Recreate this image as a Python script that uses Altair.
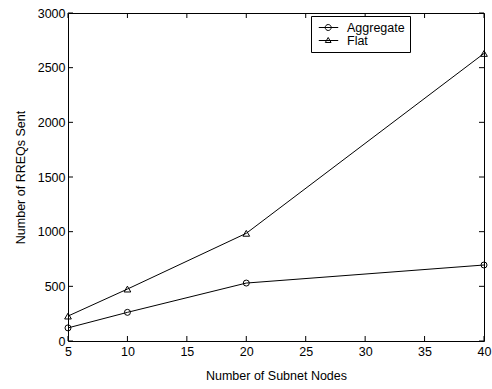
import altair as alt
import pandas as pd

# ---- data ----
nodes = [5, 10, 20, 40]
aggregate = [120, 262, 530, 695]
flat = [228, 475, 985, 2630]
series_names = ["Aggregate", "Flat"]
x_ticks = [5, 10, 15, 20, 25, 30, 35, 40]
y_ticks = [0, 500, 1000, 1500, 2000, 2500, 3000]

W, H = 416, 328
FONT = "Liberation Sans"
FS = 12.5
TICK = 5
X_TITLE = "Number of Subnet Nodes"
Y_TITLE = "Number of RREQs Sent"

df = pd.DataFrame({
    "nodes": nodes * 2,
    "value": aggregate + flat,
    "series": [series_names[0]] * len(nodes) + [series_names[1]] * len(nodes),
})
xt = pd.DataFrame({"nodes": x_ticks})
yt = pd.DataFrame({"value": y_ticks})

xscale = alt.Scale(domain=[5, 40], nice=False, zero=False)
yscale = alt.Scale(domain=[0, 3000], nice=False, zero=True)

x_axis = alt.Axis(values=x_ticks, ticks=False, grid=False, domain=False,
                  labelFlush=False, labelOverlap=False, labelPadding=4,
                  titlePadding=12, format="d")
y_axis = alt.Axis(values=y_ticks, ticks=False, grid=False, domain=False,
                  labelFlush=False, labelOverlap=False, labelPadding=3,
                  titlePadding=10, format="d")

X = alt.X("nodes:Q", scale=xscale, axis=x_axis, title=X_TITLE)
Y = alt.Y("value:Q", scale=yscale, axis=y_axis, title=Y_TITLE)

lines = alt.Chart(df).mark_line(color="black", strokeWidth=1).encode(
    x=X, y=Y, detail="series:N",
)

circles = alt.Chart(df).transform_filter(alt.datum.series == series_names[0]).mark_point(
    shape="circle", size=36, color="black", filled=False, strokeWidth=1, opacity=1
).encode(x=X, y=Y)

triangles = alt.Chart(df).transform_filter(alt.datum.series == series_names[1]).mark_point(
    shape="triangle-up", size=45, color="black", filled=False, strokeWidth=1, opacity=1
).encode(x=X, y=Y)

circle_path = "M-0.62,0H2.62M0.45,0A0.5,0.5,0,1,1,1.45,0A0.5,0.5,0,1,1,0.45,0"
tri_path = "M-0.62,0H2.62M0.95,-0.5L1.43,0.33L0.47,0.33Z"

legend_layer = alt.Chart(df).transform_filter("false").mark_point(
    filled=False, color="black", size=144, opacity=1, strokeWidth=1
).encode(
    x=X, y=Y,
    shape=alt.Shape(
        "series:N",
        scale=alt.Scale(domain=series_names, range=[circle_path, tri_path]),
        legend=alt.Legend(
            title=None, orient="none", legendX=243, legendY=3,
            strokeColor="black", fillColor="white", padding=5,
            symbolSize=144, symbolStrokeColor="black", symbolFillColor="transparent",
            symbolStrokeWidth=1, labelFont=FONT, labelFontSize=FS, labelColor="black",
            labelOffset=18, rowPadding=0, cornerRadius=0,
        ),
    ),
)

bottom_ticks = alt.Chart(xt).mark_rule(color="black", strokeWidth=1).encode(
    x=X, y=alt.value(H), y2=alt.value(H - TICK))
top_ticks = alt.Chart(xt).mark_rule(color="black", strokeWidth=1).encode(
    x=X, y=alt.value(0), y2=alt.value(TICK))
left_ticks = alt.Chart(yt).mark_rule(color="black", strokeWidth=1).encode(
    y=Y, x=alt.value(0), x2=alt.value(TICK))
right_ticks = alt.Chart(yt).mark_rule(color="black", strokeWidth=1).encode(
    y=Y, x=alt.value(W), x2=alt.value(W - TICK))

chart = alt.layer(
    lines, bottom_ticks, top_ticks, left_ticks, right_ticks, circles, triangles, legend_layer
).properties(
    width=W, height=H,
    autosize=alt.AutoSizeParams(type="none"),
    padding={"left": 68, "top": 13, "right": 8, "bottom": 48},
    background="white",
).configure_view(
    stroke="black", strokeWidth=1
).configure_axis(
    labelFont=FONT, labelFontSize=FS, labelColor="black",
    titleFont=FONT, titleFontSize=FS, titleFontWeight="normal", titleColor="black",
)

chart.save("out.html", embed_options={"renderer": "svg", "actions": False})
